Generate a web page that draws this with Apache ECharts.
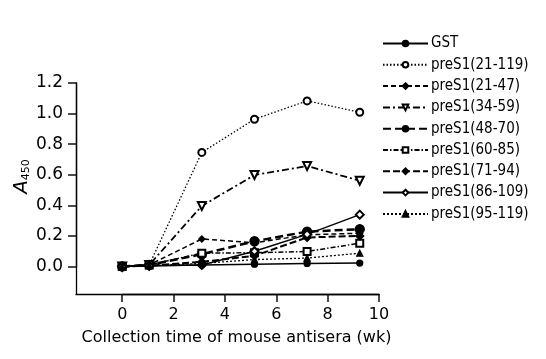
<!DOCTYPE html>
<html>
<head>
<meta charset="utf-8">
<script src="https://cdn.jsdelivr.net/npm/echarts@6/dist/echarts.min.js"></script>
<style>
  html, body { margin: 0; padding: 0; background: #fff; }
  #chart { width: 546px; height: 359px; }
</style>
</head>
<body>
<div id="chart"></div>
<script>
// collection weeks (read from the point positions)
var weeks = [0, 1.05, 3.1, 5.15, 7.2, 9.25];

var gst      = [0, 0.005, 0.01, 0.015, 0.02, 0.022];
var p21_119  = [0, 0.01, 0.746, 0.963, 1.083, 1.009];
var p21_47   = [0, 0.01, 0.18, 0.155, 0.207, 0.218];
var p34_59   = [0, 0.01, 0.396, 0.598, 0.657, 0.561];
var p48_70   = [0, 0.01, 0.08, 0.165, 0.228, 0.244];
var p60_85   = [0, 0.01, 0.087, 0.09, 0.098, 0.152];
var p71_94   = [0, 0.005, 0.03, 0.07, 0.19, 0.2];
var p86_109  = [0, 0.005, 0.01, 0.1, 0.21, 0.339];
var p95_119  = [0, 0.005, 0.02, 0.045, 0.055, 0.087];

// axis ranges: the axis lines run past the first tick
var xMin = -1.8, xMax = 10, xTickMin = 0, xTickStep = 2;
var yMin = -0.18, yMax = 1.2, yTickMin = 0, yTickStep = 0.2;

// plot box
var L = 76, T = 83, W = 303, H = 211;

function pairs(vals) {
    var out = [];
    for (var i = 0; i < vals.length; i++) out.push([weeks[i], vals[i]]);
    return out;
}

// name, data, symbol, size, dash, width
var defs = [
    ['GST',           gst,     'circle',        6, 'solid',        1.5],
    ['preS1(21-119)', p21_119, 'emptyCircle',   7, [1.5, 2],       1.3],
    ['preS1(21-47)',  p21_47,  'diamond',       6, [5, 3],         1.5],
    ['preS1(34-59)',  p34_59,  'emptyTriangle', 8, [7, 3, 2, 3],   1.8],
    ['preS1(48-70)',  p48_70,  'circle',        9, [8, 4],         2.5],
    ['preS1(60-85)',  p60_85,  'emptyRect',     7, [5, 2, 1.5, 2], 1.5],
    ['preS1(71-94)',  p71_94,  'diamond',       8, [7, 3],         2],
    ['preS1(86-109)', p86_109, 'emptyDiamond',  8, 'solid',        1.5],
    ['preS1(95-119)', p95_119, 'triangle',      6, [2, 2],         1.3]
];

var series = defs.map(function (d) {
    return {
        name: d[0],
        type: 'line',
        xAxisIndex: 0,
        yAxisIndex: 0,
        data: pairs(d[1]),
        symbol: d[2],
        symbolSize: d[3],
        symbolRotate: d[2] === 'emptyTriangle' ? 180 : 0,
        showAllSymbol: true,
        lineStyle: { color: '#000', width: d[5], type: d[4] },
        itemStyle: { color: '#000', borderColor: '#000', borderWidth: 1.3 },
        emphasis: { disabled: true },
        animation: false
    };
});

// helper grids that carry only the ticks, lined up with the main scale
var xTickLeft = L + W * (xTickMin - xMin) / (xMax - xMin);
var xTickW = W * (xMax - xTickMin) / (xMax - xMin);
var yTickH = H * (yMax - yTickMin) / (yMax - yMin);

var chart = echarts.init(document.getElementById('chart'));
chart.setOption({
    backgroundColor: '#fff',
    animation: false,
    textStyle: { fontFamily: 'DejaVu Sans' },
    grid: [
        { left: L, top: T, width: W, height: H },
        { left: xTickLeft, top: T, width: xTickW, height: H },
        { left: L, top: T, width: W, height: yTickH }
    ],
    legend: {
        orient: 'vertical',
        left: 377,
        top: 31,
        itemWidth: 45,
        itemHeight: 7,
        itemGap: 6.3,
        inactiveColor: '#000',
        textStyle: { color: '#000', fontSize: 15, fontFamily: 'DejaVu Sans Condensed, DejaVu Sans', padding: [0, 0, 0, -2] },
        data: defs.map(function (d) { return d[0]; })
    },
    xAxis: [
        {
            gridIndex: 0, type: 'value', min: xMin, max: xMax,
            name: 'Collection time of mouse antisera (wk)',
            nameLocation: 'middle',
            nameGap: 36,
            nameMoveOverlap: false,
            nameTextStyle: { color: '#000', fontSize: 16, padding: [0, 0, 0, 18] },
            splitLine: { show: false },
            axisLine: { show: true, onZero: false, lineStyle: { color: '#000', width: 1.3 } },
            axisTick: { show: false },
            axisLabel: { show: false }
        },
        {
            gridIndex: 1, type: 'value', min: xTickMin, max: xMax, interval: xTickStep,
            splitLine: { show: true, lineStyle: { color: 'rgba(0,0,0,0)' } },
            axisLine: { show: true, lineStyle: { color: '#000', width: 1.3 } },
            axisTick: { show: true, length: 8, lineStyle: { color: '#111', width: 1.5 } },
            axisLabel: { show: true, color: '#000', fontSize: 16, margin: 13 }
        },
        { gridIndex: 2, type: 'value', min: 0, max: 1, show: false }
    ],
    yAxis: [
        {
            gridIndex: 0, type: 'value', min: yMin, max: yMax,
            name: '{a|A}{s|450}',
            nameLocation: 'middle',
            nameGap: 44,
            nameMoveOverlap: false,
            nameTextStyle: {
                padding: [0, 0, 0, 24],
                rich: {
                    a: { fontSize: 20, fontStyle: 'italic', color: '#000', fontFamily: 'DejaVu Sans' },
                    s: { fontSize: 11, color: '#000', fontFamily: 'DejaVu Sans', padding: [10, 0, 0, 0] }
                }
            },
            splitLine: { show: false },
            axisLine: { show: true, onZero: false, lineStyle: { color: '#000', width: 1.3 } },
            axisTick: { show: false },
            axisLabel: { show: false }
        },
        { gridIndex: 1, type: 'value', min: 0, max: 1, show: false },
        {
            gridIndex: 2, type: 'value', min: yTickMin, max: yMax, interval: yTickStep,
            splitLine: { show: true, lineStyle: { color: 'rgba(0,0,0,0)' } },
            axisLine: { show: true, lineStyle: { color: '#000', width: 1.3 } },
            axisTick: { show: true, length: 8, lineStyle: { color: '#111', width: 1.5 } },
            axisLabel: {
                show: true, color: '#000', fontSize: 17, margin: 13,
                formatter: function (v) { return v.toFixed(1); }
            }
        }
    ],
    series: series
});
</script>
</body>
</html>
